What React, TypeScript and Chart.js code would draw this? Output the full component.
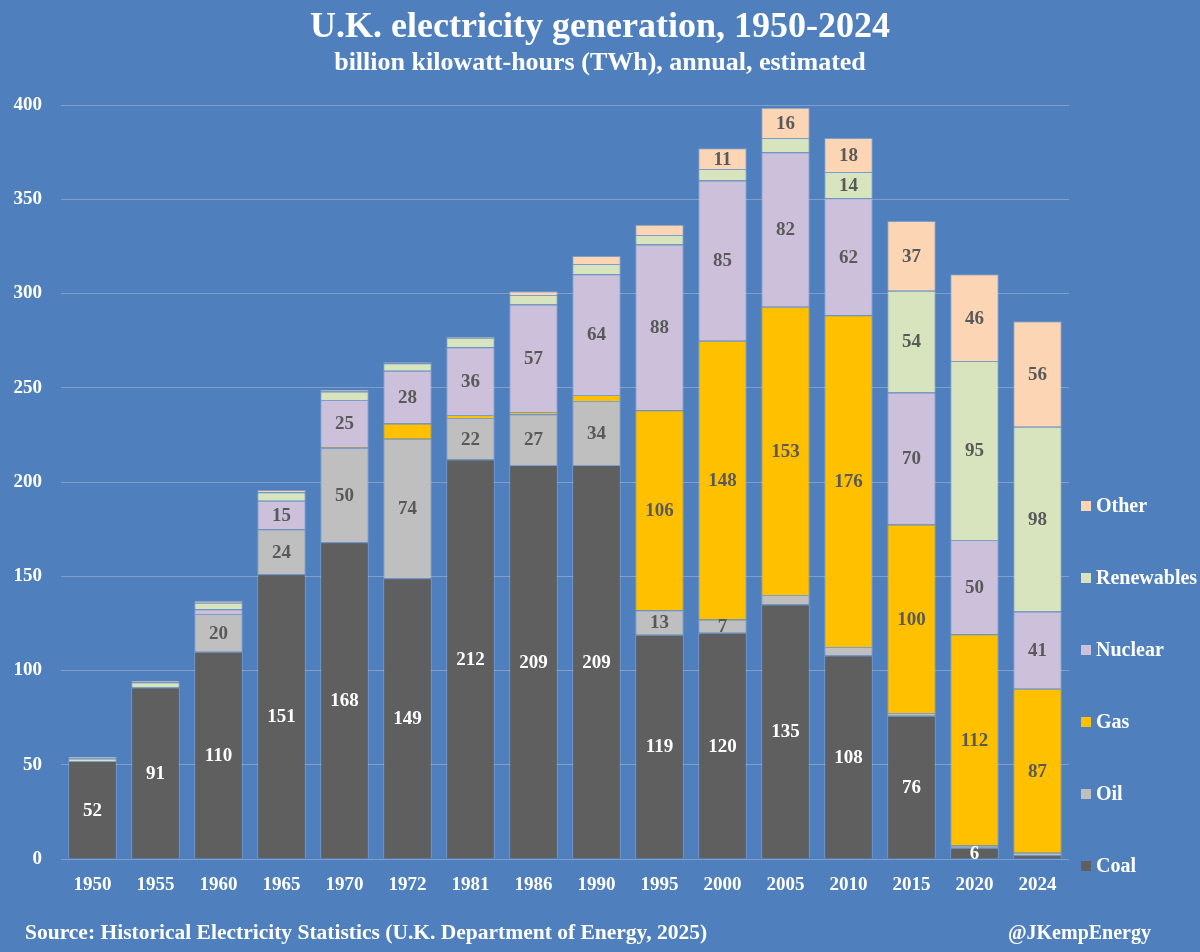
import React, { useEffect, useRef } from 'react';
import { Chart, registerables } from 'chart.js';

Chart.register(...registerables);

// ---- Data ----
const years = ['1950', '1955', '1960', '1965', '1970', '1972', '1981', '1986', '1990', '1995', '2000', '2005', '2010', '2015', '2020', '2024'];
const coal = [52, 91, 110, 151, 168, 149, 212, 209, 209, 119, 120, 135, 108, 76, 6, 2];
const oil = [0, 0, 20, 24, 50, 74, 22, 27, 34, 13, 7, 5, 4.5, 1.5, 1.2, 1.3];
const gas = [0, 0, 0, 0, 0.5, 8, 1.5, 1.2, 3.2, 106, 148, 153, 176, 100, 112, 87];
const nuclear = [0, 0, 2.5, 15, 25, 28, 36, 57, 64, 88, 85, 82, 62, 70, 50, 41];
const renewables = [1.3, 2.8, 3.5, 4.5, 4.5, 4, 5, 5, 5.5, 5, 6, 7.5, 14, 54, 95, 98];
const other = [1, 0.8, 1, 1.3, 1, 0.5, 0.5, 2, 4.2, 5.5, 11, 16, 18, 37, 46, 56];

const seriesNames = ['Coal', 'Oil', 'Gas', 'Nuclear', 'Renewables', 'Other'];
const seriesValues = [coal, oil, gas, nuclear, renewables, other];
const seriesColors = ['#5F5F5F', '#BFBFBF', '#FFC000', '#CCC0DA', '#D7E4BD', '#FCD5B5'];
const labelColors = ['#FFFFFF', '#595959', '#595959', '#595959', '#595959', '#595959'];

const yMin = 0;
const yMax = 400;
const yStep = 50;

const labelMinValue = 10;
const extraLabelSeries = ['Oil', 'Coal'];
const extraLabelYears = ['2000', '2020'];

const titleText = 'U.K. electricity generation, 1950-2024';
const subtitleText = 'billion kilowatt-hours (TWh), annual, estimated';
const sourceText = 'Source: Historical Electricity Statistics (U.K. Department of Energy, 2025)';
const creditText = '@JKempEnergy';

// ---- Style ----
const BG = '#4F80BD';
const GRID = '#7F9ECA';
const FONT = '"Liberation Serif", "DejaVu Serif", serif';

function shouldLabel(seriesIdx: number, yearIdx: number): boolean {
  const v = seriesValues[seriesIdx][yearIdx];
  if (v >= labelMinValue) return true;
  for (let k = 0; k < extraLabelSeries.length; k++) {
    if (extraLabelSeries[k] === seriesNames[seriesIdx] && extraLabelYears[k] === years[yearIdx]) return true;
  }
  return false;
}

const backgroundPlugin = {
  id: 'bgFill',
  beforeDraw(chart: any) {
    const { ctx, width, height } = chart;
    ctx.save();
    ctx.fillStyle = BG;
    ctx.fillRect(0, 0, width, height);
    ctx.restore();
  },
};

const dataLabelPlugin = {
  id: 'segLabels',
  afterDatasetsDraw(chart: any) {
    const ctx = chart.ctx;
    ctx.save();
    ctx.font = `bold 19px ${FONT}`;
    ctx.textAlign = 'center';
    ctx.textBaseline = 'middle';
    chart.data.datasets.forEach((ds: any, i: number) => {
      const meta = chart.getDatasetMeta(i);
      meta.data.forEach((el: any, j: number) => {
        if (!shouldLabel(i, j)) return;
        const p = el.getProps(['x', 'y', 'base'], true);
        ctx.fillStyle = labelColors[i];
        ctx.fillText(String(Math.round(ds.data[j])), p.x, (p.y + p.base) / 2 + 1);
      });
    });
    ctx.restore();
  },
};

const textPlugin = {
  id: 'texts',
  afterDraw(chart: any) {
    const { ctx, width, chartArea } = chart;
    ctx.save();
    ctx.fillStyle = '#FFFFFF';
    ctx.textAlign = 'center';
    ctx.textBaseline = 'alphabetic';
    ctx.font = `bold 36px ${FONT}`;
    ctx.fillText(titleText, width / 2, 37);
    ctx.font = `bold 26px ${FONT}`;
    ctx.fillText(subtitleText, width / 2, 70);

    // footer
    ctx.font = `bold 21.5px ${FONT}`;
    ctx.textAlign = 'left';
    ctx.fillText(sourceText, 25, 939);
    ctx.font = `bold 20px ${FONT}`;
    ctx.textAlign = 'right';
    ctx.fillText(creditText, 1151, 939);

    // legend (top = last series)
    ctx.font = `bold 20px ${FONT}`;
    ctx.textAlign = 'left';
    ctx.textBaseline = 'middle';
    const bx = chartArea.right + 12;
    const rowGap = 72;
    chart.data.datasets.forEach((ds: any, i: number) => {
      const cy = chartArea.bottom + 7 - i * rowGap;
      ctx.fillStyle = ds.backgroundColor;
      ctx.fillRect(bx, cy - 5, 10, 10);
      ctx.fillStyle = '#FFFFFF';
      ctx.fillText(ds.label, bx + 15, cy + 1);
    });
    ctx.restore();
  },
};

export default function App() {
  const canvasRef = useRef<HTMLCanvasElement | null>(null);

  useEffect(() => {
    if (!canvasRef.current) return;
    const chart = new Chart(canvasRef.current, {
      type: 'bar',
      data: {
        labels: years,
        datasets: seriesNames.map((name, i) => ({
          label: name,
          data: seriesValues[i],
          backgroundColor: seriesColors[i],
          borderColor: 'rgba(225,230,240,0.3)',
          borderWidth: 1,
          barPercentage: 0.77,
          categoryPercentage: 1,
        })),
      },
      options: {
        responsive: false,
        animation: false,
        devicePixelRatio: 1,
        layout: { padding: { top: 105, right: 131, bottom: 0, left: 0 } },
        plugins: {
          legend: { display: false },
          title: { display: false },
          tooltip: { enabled: false },
        },
        scales: {
          x: {
            stacked: true,
            grid: { display: false, drawTicks: false },
            border: { display: false },
            ticks: {
              color: '#FFFFFF',
              font: { family: FONT, size: 19, weight: 'bold' },
              padding: 15,
              maxRotation: 0,
              autoSkip: false,
            },
            afterFit: (scale: any) => {
              scale.height = 93;
            },
          },
          y: {
            stacked: true,
            min: yMin,
            max: yMax,
            grid: { color: GRID, lineWidth: 1, drawTicks: false },
            border: { display: false },
            ticks: {
              stepSize: yStep,
              color: '#FFFFFF',
              font: { family: FONT, size: 19, weight: 'bold' },
              padding: 19,
            },
            afterFit: (scale: any) => {
              scale.width = 61;
            },
          },
        },
      },
      plugins: [backgroundPlugin, dataLabelPlugin, textPlugin],
    } as any);
    return () => chart.destroy();
  }, []);

  return (
    <div style={{ position: 'fixed', left: 0, top: 0, width: 1200, height: 952, background: BG }}>
      <canvas ref={canvasRef} width={1200} height={952} style={{ display: 'block', width: 1200, height: 952 }} />
    </div>
  );
}
